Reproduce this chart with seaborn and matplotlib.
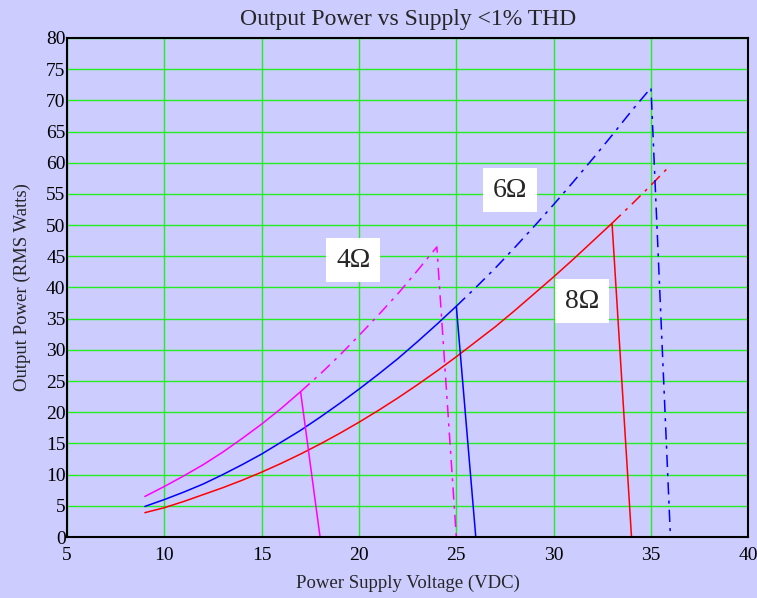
import matplotlib
matplotlib.use("Agg")
import pandas as pd
import seaborn as sns
from matplotlib import pyplot as plt

# supply voltage (VDC) and output power (RMS W)
v_4_solid = [9, 10, 11, 12, 13, 14, 15, 16, 17, 18, 36]
p_4_solid = [6.5, 8.1, 9.8, 11.6, 13.6, 15.8, 18.1, 20.6, 23.3, 0, 0]
v_4_dash = [17, 18, 19, 20, 21, 22, 23, 24, 25]
p_4_dash = [23.3, 26.1, 29.1, 32.3, 35.6, 39.0, 42.7, 46.5, 0]

v_6_solid = [9, 10, 11, 12, 13, 14, 15, 16, 17, 18, 19, 20, 21, 22, 23, 24, 25, 26, 36]
p_6_solid = [4.9, 6.0, 7.2, 8.5, 10.0, 11.6, 13.3, 15.2, 17.1, 19.2, 21.4, 23.7,
             26.1, 28.6, 31.3, 34.1, 37.0, 0, 0]
v_6_dash = [25, 26, 27, 28, 29, 30, 31, 32, 33, 34, 35, 36]
p_6_dash = [37.0, 40.0, 43.1, 46.4, 49.8, 53.3, 56.9, 60.6, 64.4, 68.3, 72.0, 0]

v_8_solid = [9, 10, 11, 12, 13, 14, 15, 16, 17, 18, 19, 20, 21, 22, 23, 24, 25,
             26, 27, 28, 29, 30, 31, 32, 33, 34, 36]
p_8_solid = [3.9, 4.7, 5.7, 6.8, 7.9, 9.1, 10.4, 11.8, 13.3, 14.9, 16.6, 18.4, 20.3,
             22.3, 24.4, 26.6, 28.9, 31.3, 33.7, 36.3, 39.0, 41.7, 44.5, 47.4, 50.3, 0, 0]
v_8_dash = [33, 34, 35, 36]
p_8_dash = [50.3, 53.3, 56.4, 59.6]

labels = ["4Ω", "6Ω", "8Ω"]
label_x = [19.7, 27.75, 31.45]
label_y = [44.4, 55.6, 37.8]

bg = "#CCCCFF"
sns.set_style("whitegrid", {"axes.facecolor": bg, "figure.facecolor": bg,
                            "grid.color": "#22EE22", "axes.edgecolor": "black"})
plt.rcParams["font.family"] = ["Liberation Serif", "DejaVu Serif"]

fig = plt.figure(figsize=(7.57, 5.98), dpi=100)
ax = fig.add_axes([0.0885, 0.102, 0.9, 0.8345])

dash_ls = (0, (8, 4, 2, 4))
segs = [
    (v_8_solid, p_8_solid, "red", "-"),
    (v_8_dash, p_8_dash, "red", dash_ls),
    (v_6_solid, p_6_solid, "blue", "-"),
    (v_6_dash, p_6_dash, "blue", dash_ls),
    (v_4_solid, p_4_solid, "magenta", "-"),
    (v_4_dash, p_4_dash, "magenta", dash_ls),
]
for xs, ys, c, ls in segs:
    df = pd.DataFrame({"v": xs, "p": ys})
    sns.lineplot(data=df, x="v", y="p", sort=False, estimator=None, ax=ax,
                 color=c, linewidth=1.1, linestyle=ls)

for t, x, y in zip(labels, label_x, label_y):
    ax.text(x, y, t, fontsize=20, ha="center", va="center",
            bbox=dict(facecolor="white", edgecolor="none", pad=7))

ax.set_xlim(5, 40)
ax.set_ylim(0, 80)
ax.set_xticks(range(5, 41, 5))
ax.set_yticks(range(0, 81, 5))
ax.grid(True, color="#22EE22", linewidth=1.0)
for s in ax.spines.values():
    s.set_color("black")
    s.set_linewidth(1.5)
ax.tick_params(axis="both", length=0, labelsize=14, colors="black")
ax.tick_params(axis="x", pad=7)
ax.tick_params(axis="y", pad=1)
ax.set_xlabel("Power Supply Voltage (VDC)", fontsize=13.5, labelpad=8)
ax.set_ylabel("Output Power (RMS Watts)", fontsize=13.5, labelpad=11)
ax.set_title("Output Power vs Supply <1% THD", fontsize=17, pad=9)

fig.savefig("out.png", dpi=100, facecolor=bg)
